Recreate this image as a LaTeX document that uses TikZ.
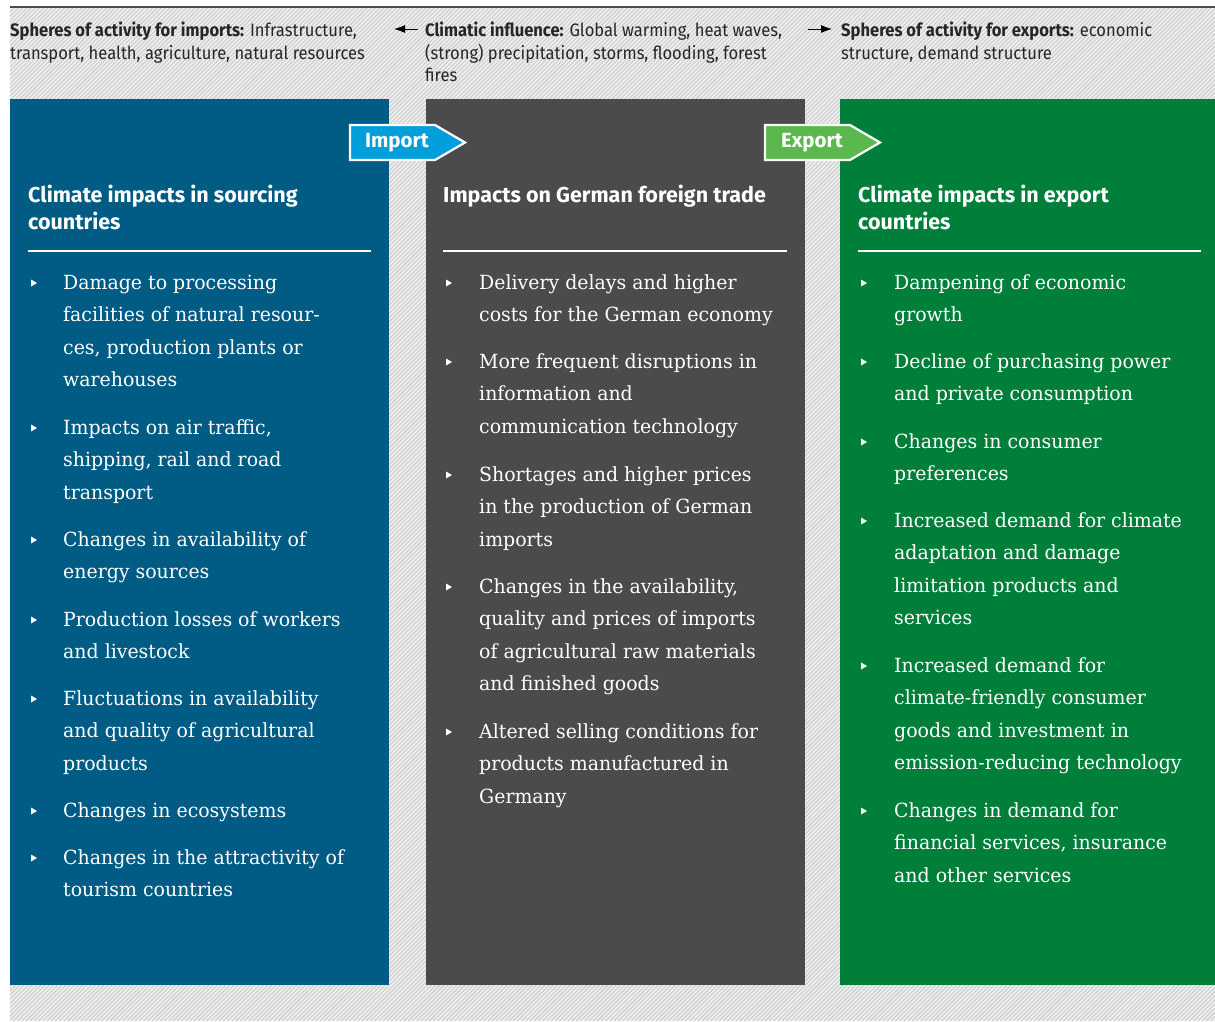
\documentclass[tikz,border=0pt]{standalone}
\usepackage{fontspec}
\setmainfont{DejaVu Serif}[FakeStretch=0.97]
\newfontfamily\headfont{Fira Sans}
\newfontfamily\topfont{Fira Sans}[FakeStretch=0.92]
\usetikzlibrary{arrows.meta}
\definecolor{ublue}{RGB}{0,92,132}
\definecolor{ugray}{RGB}{75,75,77}
\definecolor{ugreen}{RGB}{0,127,58}
\definecolor{tagblue}{RGB}{0,158,219}
\definecolor{taggreen}{RGB}{90,184,76}
\definecolor{hatchbg}{RGB}{240,240,240}
\definecolor{hatchln}{RGB}{205,205,205}
\tikzset{
  panel/.style={inner sep=0, outer sep=0, minimum height=886, anchor=north west},
  itemtext/.style={inner sep=0, anchor=north west, text=white, align=left,
     font=\fontsize{19.5}{32.5}\selectfont},
  headtext/.style={inner sep=0, anchor=north west, text=white, align=left,
     font=\headfont\bfseries\fontsize{21.5}{27}\selectfont},
  toptext/.style={inner sep=0, anchor=north west, text=black!85, align=left,
     font=\topfont\fontsize{18}{22.5}\selectfont},
  tag/.style={draw=white, line width=2.2pt, line join=miter},
  tagtext/.style={inner sep=0, text=white, font=\headfont\bfseries\fontsize{20.5}{24}\selectfont},
  sepline/.style={white, line width=1.6pt},
  toparrow/.style={black, line width=0.9pt, -{Latex[length=11pt,width=8pt]}}
}
% #1 name, #2 bullet x, #3 text x, #4 centre y of first line, #5 text
\newcommand\myitem[5]{%
  \fill[white] (#2,#4-3.5) -- (#2+6,#4) -- (#2,#4+3.5) -- cycle;
  \node[itemtext] (#1) at (#3,#4+6-16) {\rule{0pt}{16pt}#5};
}
\begin{document}
\begin{tikzpicture}[x=1pt,y=-1pt]
\useasboundingbox (0,0) rectangle (1215,1021);
\fill[white] (0,0) rectangle (1215,1021);
% hatched background
\begin{scope}
\clip (10,8) rectangle (1215,1021);
\fill[hatchbg] (10,8) rectangle (1215,1021);
\foreach \i in {0,4.2,...,2240} {
  \draw[hatchln, line width=1.1pt] (10+\i,8) -- ++(-1013,1013);
}
\end{scope}
\draw[black!70, line width=1.8pt] (10,7) -- (1215,7);

% top texts
\node[toptext] (tL) at (10,36.5-16) {\rule{0pt}{16pt}\textbf{Spheres of activity for imports:} Infrastructure,\\transport, health, agriculture, natural resources};
\node[toptext] (tM) at (425,36.5-16) {\rule{0pt}{16pt}\textbf{Climatic influence:} Global warming, heat waves,\\(strong) precipitation, storms, flooding, forest\\fires};
\node[toptext] (tR) at (841,36.5-16) {\rule{0pt}{16pt}\textbf{Spheres of activity for exports:} economic\\structure, demand structure};
\coordinate (aLs) at (418,29);
\coordinate (aLe) at (394,29);
\coordinate (aRs) at (808,29);
\coordinate (aRe) at (832,29);
\draw[toparrow] (aLs) -- (aLe);
\draw[toparrow] (aRs) -- (aRe);

% panels
\node[panel, fill=ublue, minimum width=379] (pL) at (10,99) {};
\node[panel, fill=ugray, minimum width=379] (pM) at (426,99) {};
\node[panel, fill=ugreen, minimum width=375] (pR) at (840,99) {};

% tags
\draw[tag, fill=tagblue] (350,125) -- (435,125) -- (465,142.5) -- (435,160) -- (350,160) -- cycle;
\node[tagtext] (imp) at (397,143) {Import};
\draw[tag, fill=taggreen] (765,125) -- (850,125) -- (880,142.5) -- (850,160) -- (765,160) -- cycle;
\node[tagtext] (exp) at (812,143) {Export};

% headings
\node[headtext] (hL) at (28,201-16) {\rule{0pt}{16pt}Climate impacts in sourcing\\countries};
\node[headtext] (hM) at (443,201-16) {\rule{0pt}{16pt}Impacts on German foreign trade};
\node[headtext] (hR) at (858,201-16) {\rule{0pt}{16pt}Climate impacts in export\\countries};
\draw[sepline] (28,251) -- (371,251);
\draw[sepline] (443,251) -- (787,251);
\draw[sepline] (858,251) -- (1201,251);

% left items
\myitem{l1}{31}{63}{283}{Damage to processing\\facilities of natural resour-\\ces, production plants or\\warehouses}
\myitem{l2}{31}{63}{428}{Impacts on air traffic,\\shipping, rail and road\\transport}
\myitem{l3}{31}{63}{540}{Changes in availability of\\energy sources}
\myitem{l4}{31}{63}{620}{Production losses of workers\\and livestock}
\myitem{l5}{31}{63}{699}{Fluctuations in availability\\and quality of agricultural\\products}
\myitem{l6}{31}{63}{811}{Changes in ecosystems}
\myitem{l7}{31}{63}{858}{Changes in the attractivity of\\tourism countries}

% middle items
\myitem{m1}{446}{479}{283}{Delivery delays and higher\\costs for the German economy}
\myitem{m2}{446}{479}{362}{More frequent disruptions in\\information and\\communication technology}
\myitem{m3}{446}{479}{475}{Shortages and higher prices\\in the production of German\\imports}
\myitem{m4}{446}{479}{587}{Changes in the availability,\\quality and prices of imports\\of agricultural raw materials\\and finished goods}
\myitem{m5}{446}{479}{732}{Altered selling conditions for\\products manufactured in\\Germany}

% right items
\myitem{r1}{861}{894}{283}{Dampening of economic\\growth}
\myitem{r2}{861}{894}{362}{Decline of purchasing power\\and private consumption}
\myitem{r3}{861}{894}{442}{Changes in consumer\\preferences}
\myitem{r4}{861}{894}{521}{Increased demand for climate\\adaptation and damage\\limitation products and\\services}
\myitem{r5}{861}{894}{666}{Increased demand for\\climate-friendly consumer\\goods and investment in\\emission-reducing technology}
\myitem{r6}{861}{894}{811}{Changes in demand for\\financial services, insurance\\and other services}
\end{tikzpicture}
\end{document}
